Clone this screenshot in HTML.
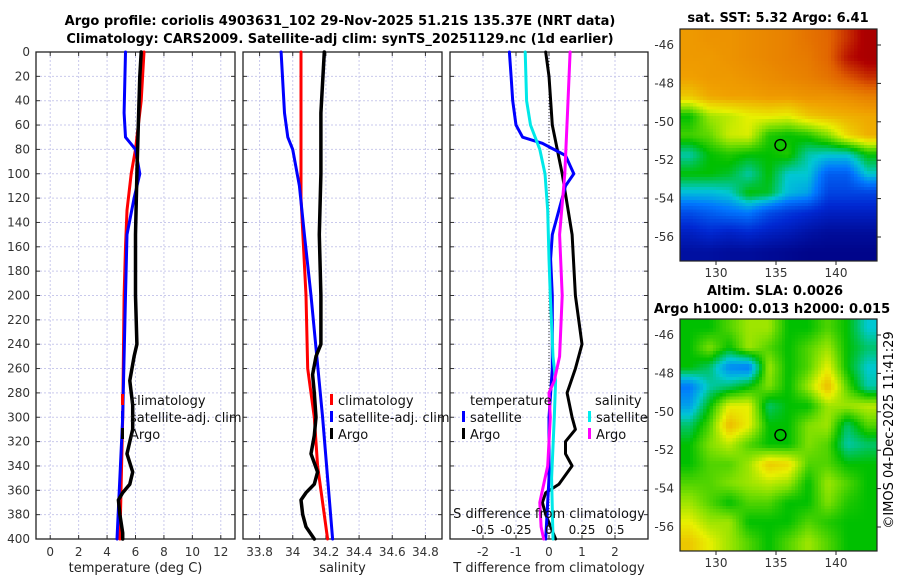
<!DOCTYPE html>
<html><head><meta charset="utf-8">
<style>
body{margin:0;background:#fff;}
svg text{font-family:"DejaVu Sans","Liberation Sans",sans-serif;}
</style></head>
<body>
<svg id="fig" width="900" height="580" viewBox="0 0 900 580" xmlns="http://www.w3.org/2000/svg">
<rect width="900" height="580" fill="#fff"/>
<text x="340" y="25" text-anchor="middle" font-size="13" font-weight="bold">Argo profile: coriolis 4903631_102 29-Nov-2025 51.21S 135.37E (NRT data)</text>
<text x="340" y="43" text-anchor="middle" font-size="13" font-weight="bold">Climatology: CARS2009. Satellite-adj clim: synTS_20251129.nc (1d earlier)</text>
<text x="778" y="22" text-anchor="middle" font-size="13" font-weight="bold">sat. SST: 5.32 Argo: 6.41</text>
<text x="775" y="295" text-anchor="middle" font-size="13" font-weight="bold">Altim. SLA: 0.0026</text>
<text x="772" y="313" text-anchor="middle" font-size="13" font-weight="bold">Argo h1000: 0.013 h2000: 0.015</text>
<text transform="translate(893,430) rotate(-90)" text-anchor="middle" font-size="13">©IMOS 04-Dec-2025 11:41:29</text>
<g id="layer"></g>
</svg>
<script>
// ---- data ----
const depthTicks=[0,20,40,60,80,100,120,140,160,180,200,220,240,260,280,300,320,340,360,380,400];
const tempTicks=[0,2,4,6,8,10,12];
const salTicks=[33.8,34,34.2,34.4,34.6,34.8];
const tdiffTicks=[-2,-1,0,1,2];
const sdiffTicks=[-0.5,-0.25,0,0.25,0.5];
const sdiffLabels=["-0.5","-0.25","0","0.25","0.5"];

const argoTDepth=[0,20,60,100,150,200,240,250,270,290,310,320,330,345,355,362,368,380,395,400];
const argoTemp=[6.4,6.3,6.2,6.1,6.0,6.0,6.1,5.9,5.6,5.8,5.8,5.6,5.4,5.8,5.6,5.1,4.8,4.9,5.1,5.1];
const climTDepth=[0,40,80,100,130,160,200,300,400];
const climTemp=[6.6,6.4,6.0,5.7,5.4,5.3,5.2,5.1,4.9];
const satTDepth=[0,50,70,80,100,120,150,200,300,400];
const satTemp=[5.3,5.2,5.3,6.0,6.3,5.9,5.4,5.3,5.1,4.7];

const argoSDepth=[0,50,100,150,200,240,250,265,280,300,315,330,345,355,362,368,380,390,400];
const argoSal=[34.19,34.17,34.17,34.16,34.17,34.17,34.14,34.12,34.13,34.14,34.13,34.11,34.15,34.13,34.08,34.05,34.06,34.08,34.13];
const climSDepth=[0,100,120,200,260,300,340,400];
const climSal=[34.05,34.05,34.05,34.08,34.09,34.13,34.15,34.21];
const satSDepth=[0,50,70,80,110,150,200,300,400];
const satSal=[33.93,33.95,33.97,34.0,34.04,34.07,34.11,34.18,34.24];

const argoTdDepth=[0,20,60,100,150,200,240,260,280,300,310,320,330,340,355,362,370,380,400];
const argoTdiff=[-0.1,0,0.1,0.4,0.7,0.8,1.0,0.8,0.55,0.7,0.8,0.5,0.5,0.7,0.3,-0.1,-0.2,-0.1,0.2];
const satTdDepth=[0,20,40,60,70,75,85,100,110,150,170,200,260,300,350,400];
const satTdiff=[-1.2,-1.15,-1.1,-1.0,-0.8,-0.2,0.5,0.75,0.5,0.1,0.05,0.1,0.1,0,0,-0.1];
const satSdDepth=[0,40,60,80,100,130,170,200,250,270,300,350,400];
const satSdiff=[-0.18,-0.17,-0.14,-0.07,-0.03,-0.01,0,0.01,0.03,0.05,0.04,0.02,0.03];
const argoSdDepth=[0,50,100,150,200,250,270,280,300,320,340,360,370,390,400];
const argoSdiff=[0.16,0.14,0.12,0.08,0.1,0.08,0.04,0,0.01,0,-0.01,-0.05,-0.07,-0.06,-0.04];

const latTicks=[-46,-48,-50,-52,-54,-56];
const lonTicks=[130,135,140];
const argoLon=135.37, argoLat=-51.21;
const sstGrid=[
[.76,.77,.77,.78,.79,.80,.82,.84,.90,.97],
[.76,.76,.77,.78,.79,.80,.81,.84,.93,.97],
[.75,.76,.76,.77,.78,.79,.80,.82,.86,.90],
[.70,.74,.75,.75,.76,.76,.77,.77,.78,.80],
[.50,.60,.62,.65,.66,.65,.70,.72,.73,.74],
[.54,.56,.63,.64,.52,.50,.52,.58,.68,.73],
[.42,.50,.52,.50,.50,.52,.42,.40,.40,.50],
[.50,.50,.48,.42,.50,.40,.40,.25,.25,.40],
[.38,.38,.40,.50,.48,.38,.35,.20,.20,.20],
[.22,.25,.28,.30,.22,.18,.15,.12,.12,.12],
[.12,.15,.13,.15,.12,.10,.07,.05,.05,.05],
[.06,.06,.05,.05,.04,.03,.02,.02,.02,.02]];
const slaGrid=[
[.5,.5,.55,.6,.6,.5,.5,.55,.5,.4],
[.5,.58,.5,.6,.55,.5,.55,.6,.5,.45],
[.5,.45,.32,.3,.6,.5,.55,.65,.5,.4],
[.3,.42,.45,.5,.58,.5,.6,.72,.55,.42],
[.35,.5,.65,.65,.45,.5,.5,.6,.6,.62],
[.45,.55,.72,.65,.5,.5,.58,.6,.45,.55],
[.5,.58,.62,.55,.5,.5,.58,.55,.42,.45],
[.5,.55,.55,.6,.7,.68,.55,.55,.5,.5],
[.55,.55,.58,.6,.62,.6,.5,.6,.55,.5],
[.6,.55,.5,.55,.55,.5,.5,.58,.52,.5],
[.65,.6,.6,.5,.5,.5,.55,.52,.5,.5],
[.7,.65,.6,.55,.5,.55,.6,.55,.5,.5]];

// ---- helpers ----
const NS="http://www.w3.org/2000/svg";
const L=document.getElementById('layer');
function mk(tag,attrs,parent){const e=document.createElementNS(NS,tag);for(const k in attrs)e.setAttribute(k,attrs[k]);(parent||L).appendChild(e);return e;}
const Y0=52,Y1=539;
const yD=d=>Y0+(d/400)*(Y1-Y0);
function lin(d0,d1,r0,r1){return v=>r0+(v-d0)/(d1-d0)*(r1-r0);}
const P1={x0:36,x1:235}, P2={x0:243,x1:442}, P3={x0:450,x1:648};
const xT=lin(-1,13,P1.x0,P1.x1);
const xS=lin(33.7,34.9,P2.x0,P2.x1);
const xTd=lin(-3,3,P3.x0,P3.x1);
const xSd=lin(-0.75,0.75,P3.x0,P3.x1);

function panelFrame(P,xs,ticks,labels,name,xlabel){
  const g=mk('g',{});
  
  
  ticks.forEach(t=>{const x=xs(t);
    mk('line',{x1:x,x2:x,y1:Y0,y2:Y1,stroke:'#c9c9ec','stroke-width':1,'stroke-dasharray':'2,2'},g);
    mk('line',{x1:x,x2:x,y1:Y1,y2:Y1-4,stroke:'#333'},g);
    mk('line',{x1:x,x2:x,y1:Y0,y2:Y0+4,stroke:'#333'},g);
  });
  depthTicks.forEach(d=>{const y=yD(d);
    mk('line',{x1:P.x0,x2:P.x1,y1:y,y2:y,stroke:'#c9c9ec','stroke-width':1,'stroke-dasharray':'2,2'},g);
    mk('line',{x1:P.x0,x2:P.x0+4,y1:y,y2:y,stroke:'#333'},g);
    mk('line',{x1:P.x1,x2:P.x1-4,y1:y,y2:y,stroke:'#333'},g);
  });
  ticks.forEach((t,i)=>{const tx=mk('text',{x:xs(t),y:Y1+17,'text-anchor':'middle','font-size':12,fill:'#333'},g);tx.textContent=labels?labels[i]:String(t);
    
    });
  const xl=mk('text',{x:(P.x0+P.x1)/2,y:Y1+33,'text-anchor':'middle','font-size':13,fill:'#222'},g);xl.textContent=xlabel;
  
  
  mk('rect',{x:P.x0,y:Y0,width:P.x1-P.x0,height:Y1-Y0,fill:'none',stroke:'#222','stroke-width':1.3},g);
  return g;
}
function line(xs,vals,depths,color,w,name){
  const pts=vals.map((v,i)=>xs(v).toFixed(1)+','+yD(depths[i]).toFixed(1)).join(' ');
  const p=mk('polyline',{points:pts,fill:'none',stroke:color,'stroke-width':w,'stroke-linejoin':'round','stroke-linecap':'round'});
  
  
}
function txt(x,y,s,name,size,anchor){const t=mk('text',{x:x,y:y,'font-size':size||13,'text-anchor':anchor||'start',fill:'#111'});t.textContent=s;
  
  return t;}
function mark(x,y,c,name){const r=mk('rect',{x:x,y:y-6,width:3,height:11,fill:c});
  
  }

// panel 1
panelFrame(P1,xT,tempTicks,null,'temperature-panel','temperature (deg C)');
depthTicks.forEach(d=>{const t=txt(30,yD(d)+4,String(d),'y-tick-label',12,'end');t.setAttribute('fill','#333');});
line(xT,climTemp,climTDepth,'#ff0000',3,'climatology-temperature-line');
line(xT,satTemp,satTDepth,'#0000ff',3,'satellite-temperature-line');
line(xT,argoTemp,argoTDepth,'#000',3.5,'argo-temperature-line');
mark(121,400,'#f00','legend-climatology-marker');txt(130,405,'climatology','legend-climatology');
mark(121,417,'#00f','legend-satellite-marker');txt(130,422,'satellite-adj. clim','legend-satellite-adj');
mark(121,434,'#000','legend-argo-marker');txt(130,439,'Argo','legend-argo');

// panel 2
panelFrame(P2,xS,salTicks,null,'salinity-panel','salinity');
line(xS,climSal,climSDepth,'#ff0000',3,'climatology-salinity-line');
line(xS,satSal,satSDepth,'#0000ff',3,'satellite-salinity-line');
line(xS,argoSal,argoSDepth,'#000',3.5,'argo-salinity-line');
mark(330,400,'#f00','legend-climatology-marker');txt(338,405,'climatology','legend-climatology');
mark(330,417,'#00f','legend-satellite-marker');txt(338,422,'satellite-adj. clim','legend-satellite-adj');
mark(330,434,'#000','legend-argo-marker');txt(338,439,'Argo','legend-argo');

// panel 3
panelFrame(P3,xTd,tdiffTicks,null,'difference-panel','T difference from climatology');
mk('line',{x1:xTd(0),x2:xTd(0),y1:Y0,y2:Y1,stroke:'#333','stroke-dasharray':'1,2'});
line(xTd,argoTdiff,argoTdDepth,'#000',3,'argo-tdiff-line');
line(xTd,satTdiff,satTdDepth,'#0000ff',3,'satellite-tdiff-line');
line(xSd,satSdiff,satSdDepth,'#00e8e8',3,'satellite-sdiff-line');
line(xSd,argoSdiff,argoSdDepth,'#ff00ff',3,'argo-sdiff-line');
txt(470,405,'temperature','legend-temperature-heading');
mark(462,417,'#00f','legend-t-satellite-marker');txt(470,422,'satellite','legend-t-satellite');
mark(462,434,'#000','legend-t-argo-marker');txt(470,439,'Argo','legend-t-argo');
txt(595,405,'salinity','legend-salinity-heading');
mark(588,417,'#0ee','legend-s-satellite-marker');txt(596,422,'satellite','legend-s-satellite');
mark(588,434,'#f0f','legend-s-argo-marker');txt(596,439,'Argo','legend-s-argo');
txt(549,518,'S difference from climatology','s-diff-axis-title',13,'middle');
sdiffTicks.forEach((s,i)=>txt(xSd(s),534,sdiffLabels[i],'s-diff-tick-label',12,'middle'));

// maps
const stops=[[0,[0,0,128]],[0.15,[0,40,210]],[0.3,[0,120,255]],[0.4,[0,200,210]],[0.5,[0,192,0]],[0.58,[128,224,0]],[0.65,[232,240,0]],[0.75,[240,160,0]],[0.85,[224,96,0]],[0.95,[176,0,0]],[1,[160,0,0]]];
function cmap(v){v=Math.max(0,Math.min(1,v));for(let i=1;i<stops.length;i++){if(v<=stops[i][0]){const a=stops[i-1],b=stops[i],f=(v-a[0])/(b[0]-a[0]);
  return 'rgb('+a[1].map((c,k)=>Math.round(c+(b[1][k]-c)*f)).join(',')+')';}}return 'rgb(160,0,0)';}
function sample(grid,fy,fx){ // bilinear sample at fractional cell-centre coords
  const R=grid.length,C=grid[0].length;
  fy=Math.max(0,Math.min(R-1,fy));fx=Math.max(0,Math.min(C-1,fx));
  const i=Math.floor(fy),j=Math.floor(fx),i2=Math.min(R-1,i+1),j2=Math.min(C-1,j+1),a=fy-i,b=fx-j;
  return grid[i][j]*(1-a)*(1-b)+grid[i][j2]*(1-a)*b+grid[i2][j]*a*(1-b)+grid[i2][j2]*a*b;
}
function drawMap(grid,top,bot,lat46,lat56,name){
  const x0=680,x1=877,SUB=6;
  const g=mk('g',{'shape-rendering':'crispEdges'});
  
  
  const rows=grid.length*SUB,cols=grid[0].length*SUB,cw=(x1-x0)/cols,ch=(bot-top)/rows;
  for(let i=0;i<rows;i++)for(let j=0;j<cols;j++){
    const v=sample(grid,(i+0.5)/SUB-0.5,(j+0.5)/SUB-0.5);
    mk('rect',{x:(x0+j*cw).toFixed(2),y:(top+i*ch).toFixed(2),width:(cw+0.5).toFixed(2),height:(ch+0.5).toFixed(2),fill:cmap(v)},g);
  }
  const g2=mk('g',{});
  const yL=lin(-46,-56,lat46,lat56), xL=lin(130,140,716,836);
  mk('rect',{x:x0,y:top,width:x1-x0,height:bot-top,fill:'none',stroke:'#222','stroke-width':1.2},g2);
  latTicks.forEach(l=>{const y=yL(l);mk('line',{x1:x1,x2:x1+4,y1:y,y2:y,stroke:'#222'},g2);
    const t=mk('text',{x:674,y:y+4,'text-anchor':'end','font-size':12,fill:'#333'},g2);t.textContent=String(l);
    
    });
  lonTicks.forEach(l=>{const x=xL(l);mk('line',{x1:x,x2:x,y1:bot,y2:bot+4,stroke:'#222'},g2);
    const t=mk('text',{x:x,y:bot+16,'text-anchor':'middle','font-size':12,fill:'#333'},g2);t.textContent=String(l);
    
    });
  const c=mk('circle',{cx:xL(argoLon),cy:yL(argoLat),r:5.5,fill:'none',stroke:'#000','stroke-width':1.4},g2);
  
  
}
drawMap(sstGrid,29,261,45,237,'sst-map');
drawMap(slaGrid,319,551,335,527,'sla-map');
</script>
</body></html>
